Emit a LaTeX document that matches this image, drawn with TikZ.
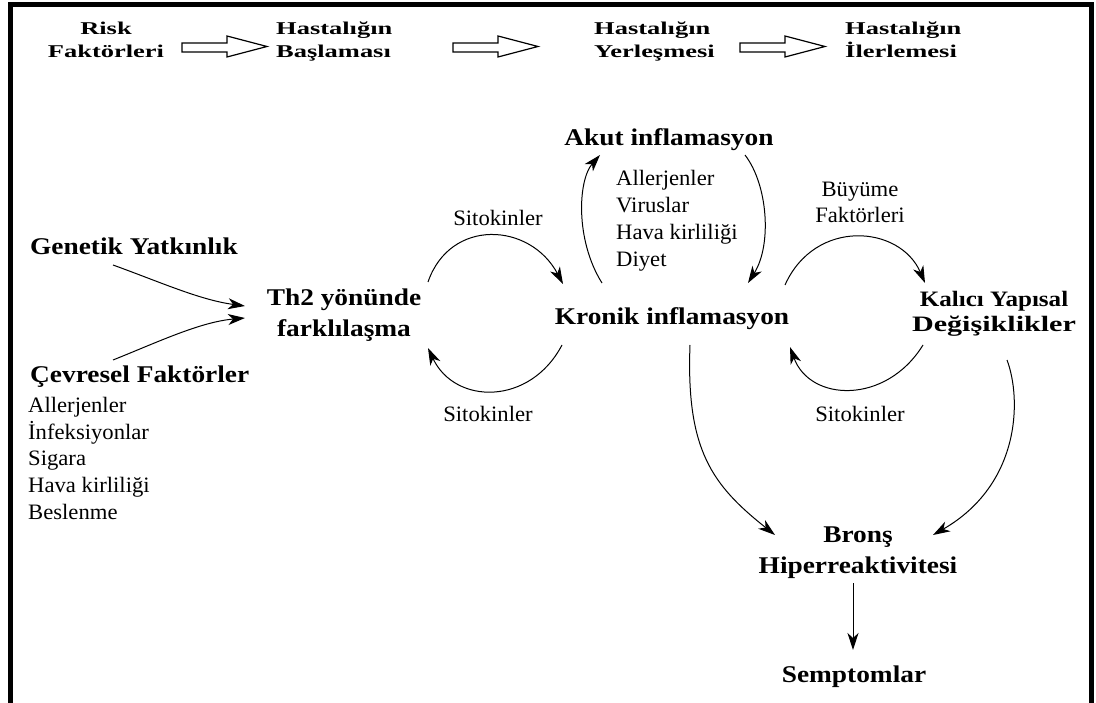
\documentclass[tikz,border=0pt]{standalone}
\usepackage{fontspec}
\setmainfont{Liberation Serif}
\newfontfamily\tbf{Liberation Serif}[FakeStretch=1.47]
\newfontfamily\mbf{Liberation Serif}[FakeStretch=1.14]
\newfontfamily\rgf{Liberation Serif}[FakeStretch=1.03]
\usetikzlibrary{arrows.meta,calc}
\tikzset{
  tlab/.style={inner sep=0pt, font=\tbf\bfseries\fontsize{18}{23}\selectfont},
  blab/.style={inner sep=0pt, font=\mbf\bfseries\fontsize{24}{31}\selectfont},
  rlab/.style={inner sep=0pt, font=\rgf\fontsize{22}{27}\selectfont},
  conn/.style={line width=1pt, -{Stealth[length=17pt,width=11pt,inset=5pt]}},
  hollow/.style={draw, line width=1.2pt, line join=miter},
  frameline/.style={line width=5pt, line join=miter}
}
\begin{document}
\begin{tikzpicture}[x=1pt,y=-1pt]
\useasboundingbox (0,0) rectangle (1096,703);
\draw[frameline] (10.5,710) -- (10.5,4.5) -- (1091.5,4.5) -- (1091.5,710);

% top row
\node[tlab, align=center, anchor=base] (t1) at (106,58) {Risk\\Faktörleri};
\node[tlab, align=left, anchor=base west] (t2) at (276,58) {Hastalığın\\Başlaması};
\node[tlab, align=left, anchor=base west] (t3) at (594,58) {Hastalığın\\Yerleşmesi};
\node[tlab, align=left, anchor=base west] (t4) at (845,58) {Hastalığın\\İlerlemesi};
\foreach \x in {182,453,740}
  \draw[hollow] (\x,43) -- ++(45,0) -- ++(0,-7) -- (\x+85,46.5) -- (\x+45,57) -- ++(0,-5) -- (\x,52) -- cycle;

% middle
\node[blab, anchor=base] (akut) at (669,146) {Akut inflamasyon};
\node[rlab, align=left, anchor=base west] (trig) at (616,267) {Allerjenler\\Viruslar\\Hava kirliliği\\Diyet};
\node[rlab, anchor=base] (sit1) at (498,226) {Sitokinler};
\node[rlab, align=center, anchor=base, font=\rgf\fontsize{22}{26}\selectfont] (buy) at (860,223) {Büyüme\\Faktörleri};
\node[blab, anchor=base west] (gen) at (30,255) {Genetik Yatkınlık};
\node[blab, align=center, anchor=base] (th2) at (344,337) {Th2 yönünde\\farklılaşma};
\node[blab, anchor=base] (kron) at (672,325) {Kronik inflamasyon};
\node[blab, align=center, anchor=base, font=\mbf\bfseries\fontsize{22}{25}\selectfont] (kal) at (994,332) {Kalıcı Yapısal\\\scalebox{1.2}[1]{Değişiklikler}};
\node[blab, anchor=base west] (cev) at (30,383) {Çevresel Faktörler};
\node[rlab, align=left, anchor=base west] (env) at (28,520) {Allerjenler\\İnfeksiyonlar\\Sigara\\Hava kirliliği\\Beslenme};
\node[rlab, anchor=base] (sit2) at (488,422) {Sitokinler};
\node[rlab, anchor=base] (sit3) at (860,422) {Sitokinler};
\node[blab, align=center, anchor=base] (bron) at (858,573) {Bronş\\Hiperreaktivitesi};
\node[blab, anchor=base] (semp) at (854,682) {Semptomlar};

% connectors
\draw[conn] ($(gen.base west)+(83,10)$) .. controls +(47,17) and +(-45,-6) .. ($(th2.base)+(-99,-31)$);
\draw[conn] ($(cev.base west)+(83,-23)$) .. controls +(45,-18) and +(-45,4) .. ($(th2.base)+(-99,-19)$);
\draw[conn] ($(th2.base)+(84,-55)$) .. controls +(22,-64) and +(-33,-62) .. ($(kron.base)+(-109,-41)$);
\draw[conn] ($(kron.base)+(-110,20)$) .. controls +(-32,61) and +(27,57) .. ($(th2.base)+(84,11)$);
\draw[conn] ($(kron.base)+(-70,-42)$) .. controls +(-27,-43) and +(-22,25) .. ($(akut.base)+(-69,9)$);
\draw[conn] ($(akut.base)+(76,9)$) .. controls +(23,30) and +(24,-38) .. ($(kron.base)+(76,-42)$);
\draw[conn] ($(kron.base)+(113,-40)$) .. controls +(30,-67) and +(-25,-58) .. ($(kal.base)+(-69,-49)$);
\draw[conn] ($(kal.base)+(-71,13)$) .. controls +(-37,60) and +(20,55) .. ($(kron.base)+(118,22)$);
\draw[conn] ($(kron.base)+(18,20)$) .. controls +(-4,105) and +(-63,-50) .. ($(bron.base)+(-83,-38)$);
\draw[conn] ($(kal.base)+(13,28)$) .. controls +(15,40) and +(87,-50) .. ($(bron.base)+(75,-38)$);
\draw[conn] ($(bron.base)+(-5,10)$) -- ($(semp.base)+(-1,-32)$);
\end{tikzpicture}
\end{document}
